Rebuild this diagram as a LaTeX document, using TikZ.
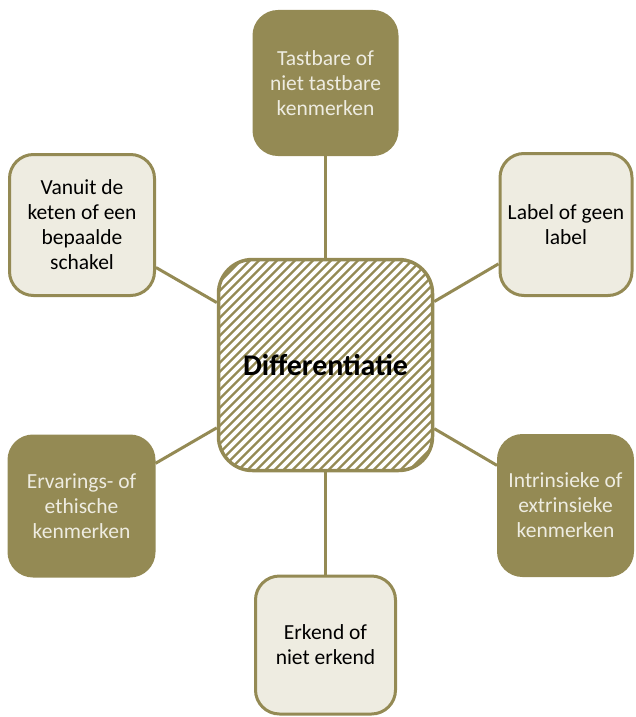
\documentclass[tikz,border=0pt]{standalone}
\usepackage{fontspec}
\setmainfont{Carlito}

\definecolor{olijf}{HTML}{948A54}
\definecolor{licht}{HTML}{EEECE1}

\begin{document}
\begin{tikzpicture}[x=1pt, y=-1pt,
  kader/.style={rectangle, rounded corners=24pt, line width=3pt, draw=olijf,
    align=center, inner sep=0pt, font=\fontsize{21.5}{25}\selectfont},
  donker/.style={kader, fill=olijf, draw=olijf, text=licht},
  lichtkader/.style={kader, fill=licht, text=black},
  verbinding/.style={draw=olijf, line width=3pt}]

% Kader
\useasboundingbox (0,0) rectangle (635,717);

% Arcering van het middelste kader
\begin{scope}
  \clip[rounded corners=34pt] (218.5,259.5) rectangle (432.5,470.5);
  \foreach \t in {-234,-225,...,234}
    \draw[olijf, line width=2.2pt] (325.5+\t-120,365+120) -- (325.5+\t+120,365-120);
\end{scope}

% Middelste kader
\node[rectangle, rounded corners=34pt, line width=3.5pt, draw=olijf,
  minimum width=214pt, minimum height=211pt,
  font=\fontsize{30}{36}\selectfont\bfseries] (midden) at (325.5,365) {Differentiatie};

% Kenmerken rondom
\node[donker, minimum width=143pt, minimum height=143pt] (boven) at (325.5,83)
  {Tastbare of\\niet tastbare\\kenmerken};
\node[lichtkader, minimum width=132pt, minimum height=142pt] (rechtsboven) at (566,224.5)
  {Label of geen\\label};
\node[lichtkader, minimum width=145pt, minimum height=141pt] (linksboven) at (82,225)
  {Vanuit de\\keten of een\\bepaalde\\schakel};
\node[donker, minimum width=145pt, minimum height=140pt] (linksonder) at (81.5,506)
  {Ervarings- of\\ethische\\kenmerken};
\node[donker, minimum width=134pt, minimum height=140pt] (rechtsonder) at (565.5,505.5)
  {Intrinsieke of\\extrinsieke\\kenmerken};
\node[lichtkader, minimum width=140pt, minimum height=138pt] (onder) at (325.5,645)
  {Erkend of\\niet erkend};

% Verbindingen
\foreach \doel in {boven, rechtsboven, linksboven, linksonder, rechtsonder, onder}
  \draw[verbinding] (midden) -- (\doel);

\end{tikzpicture}
\end{document}
